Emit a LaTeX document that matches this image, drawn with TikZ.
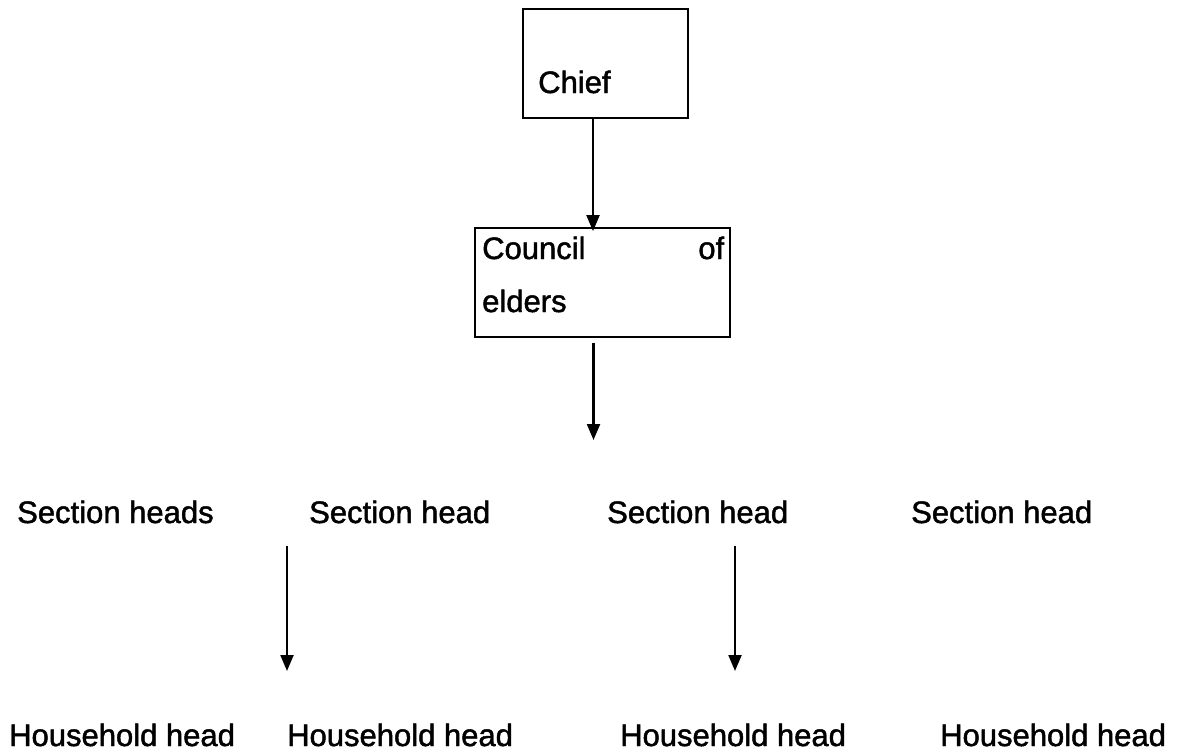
\documentclass[tikz,border=0pt]{standalone}
\usepackage{fontspec}
\setmainfont{Liberation Sans}[FakeBold=1.5]
\usetikzlibrary{arrows.meta}
\begin{document}
\begin{tikzpicture}[x=1pt,y=-1pt,
  box/.style={draw, line width=1.8pt, inner sep=0pt},
  lbl/.style={anchor=base west, inner sep=0pt, font=\fontsize{31}{53}\selectfont},
  link/.style={line width=2.2pt, -{Triangle[length=16pt,width=13pt]}}]
  \useasboundingbox (0,0) rectangle (1183,753);

  % top box and its label
  \node[box, minimum width=165pt, minimum height=109pt] (chief) at (605.5,63.5) {};
  \node[lbl] (chieft) at (538,93) {Chief};

  % council box with justified first line
  \node[box, minimum width=255pt, minimum height=109pt] (council) at (602.5,282.5) {};
  \node[lbl, text width=242pt, align=left] (councilt) at (482,259)
    {Council\hfill of\\elders};

  % section level
  \node[lbl] (s1) at (17,523) {Section heads};
  \node[lbl] (s2) at (309,523) {Section head};
  \node[lbl] (s3) at (607,523) {Section head};
  \node[lbl] (s4) at (911,523) {Section head};

  % household level
  \node[lbl] (h1) at (9,746) {Household head};
  \node[lbl] (h2) at (287,746) {Household head};
  \node[lbl] (h3) at (620,746) {Household head};
  \node[lbl] (h4) at (940,746) {Household head};

  % connector end points
  \coordinate (ax) at (593,0);
  \coordinate (c2a) at (593.5,343);
  \coordinate (c2b) at (593.5,440);
  \coordinate (l1a) at (287,546);
  \coordinate (l1b) at (287,671);
  \coordinate (l2a) at (735,546);
  \coordinate (l2b) at (735,671);

  \draw[link] (chief.south -| ax) -- ([yshift=-4pt]council.north -| ax);
  \draw[link] (c2a) -- (c2b);
  \draw[link] (l1a) -- (l1b);
  \draw[link] (l2a) -- (l2b);
\end{tikzpicture}
\end{document}
